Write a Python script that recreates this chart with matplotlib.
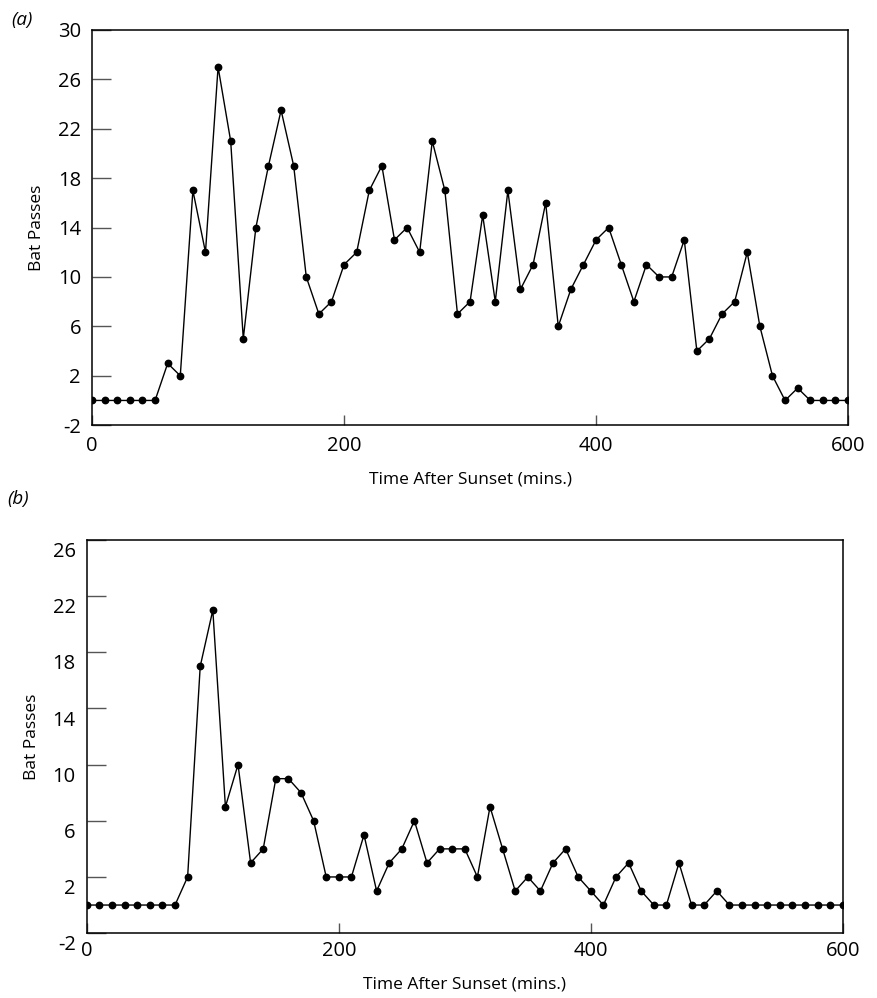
import numpy as np
import matplotlib
matplotlib.use("Agg")
import matplotlib.pyplot as plt
import matplotlib.transforms as mtransforms

plt.rcParams['font.family'] = ['Open Sans', 'DejaVu Sans']

# time after sunset, every 10 minutes
minutes = list(range(0, 610, 10))

# panel (a)
passes_a = [0, 0, 0, 0, 0, 0, 3, 2, 17, 12,
            27, 21, 5, 14, 19, 23.5, 19, 10, 7, 8,
            11, 12, 17, 19, 13, 14, 12, 21, 17, 7,
            8, 15, 8, 17, 9, 11, 16, 6, 9, 11,
            13, 14, 11, 8, 11, 10, 10, 13, 4, 5,
            7, 8, 12, 6, 2, 0, 1, 0, 0, 0, 0]

# panel (b)
passes_b = [0, 0, 0, 0, 0, 0, 0, 0, 2, 17,
            21, 7, 10, 3, 4, 9, 9, 8, 6, 2,
            2, 2, 5, 1, 3, 4, 6, 3, 4, 4,
            4, 2, 7, 4, 1, 2, 1, 3, 4, 2,
            1, 0, 2, 3, 1, 0, 0, 3, 0, 0,
            1, 0, 0, 0, 0, 0, 0, 0, 0, 0, 0]

xticks = [0, 200, 400, 600]
yticks_a = [-2, 2, 6, 10, 14, 18, 22, 26, 30]
yticks_b = [-2, 2, 6, 10, 14, 18, 22, 26]

fig = plt.figure(figsize=(8.77, 9.98), dpi=100)

panels = [
    ([0.105, 0.574, 0.862, 0.396], passes_a, yticks_a, (-2, 30), "(a)", (0.013, 0.980), 0),
    ([0.099, 0.065, 0.862, 0.394], passes_b, yticks_b, (-2, 26), "(b)", (0.008, 0.500), -7),
]

for rect, ys, yt, ylim, tag, tagpos, yshift in panels:
    ax = fig.add_axes(rect)
    ax.plot(minutes, ys, color='black', lw=1.0, marker='o', ms=4.6,
            markerfacecolor='black', markeredgecolor='black')
    ax.set_xlim(0, 600)
    ax.set_ylim(*ylim)
    ax.set_xticks(xticks)
    ax.set_yticks(yt)
    ax.set_yticklabels([str(v) for v in yt])
    ax.tick_params(axis='y', direction='in', length=13.5, width=1.0,
                   color='#555555', labelsize=14.5, pad=8.0)
    ax.tick_params(axis='x', direction='in', length=7, width=1.0,
                   color='#555555', labelsize=14.5, pad=8 if yshift == 0 else 6)
    for s in ax.spines.values():
        s.set_linewidth(1.1)
        s.set_color('black')
    ax.set_ylabel("Bat Passes", fontsize=12.5, labelpad=9)
    ax.set_xlabel("Time After Sunset (mins.)", fontsize=12.5, labelpad=11)
    if yshift:
        off = mtransforms.ScaledTranslation(0, yshift / 72, fig.dpi_scale_trans)
        for lab in ax.get_yticklabels():
            lab.set_transform(lab.get_transform() + off)
    fig.text(tagpos[0], tagpos[1], tag, fontsize=13.5, style='italic',
             ha='left', va='center')

fig.savefig("out.png", dpi=100)
